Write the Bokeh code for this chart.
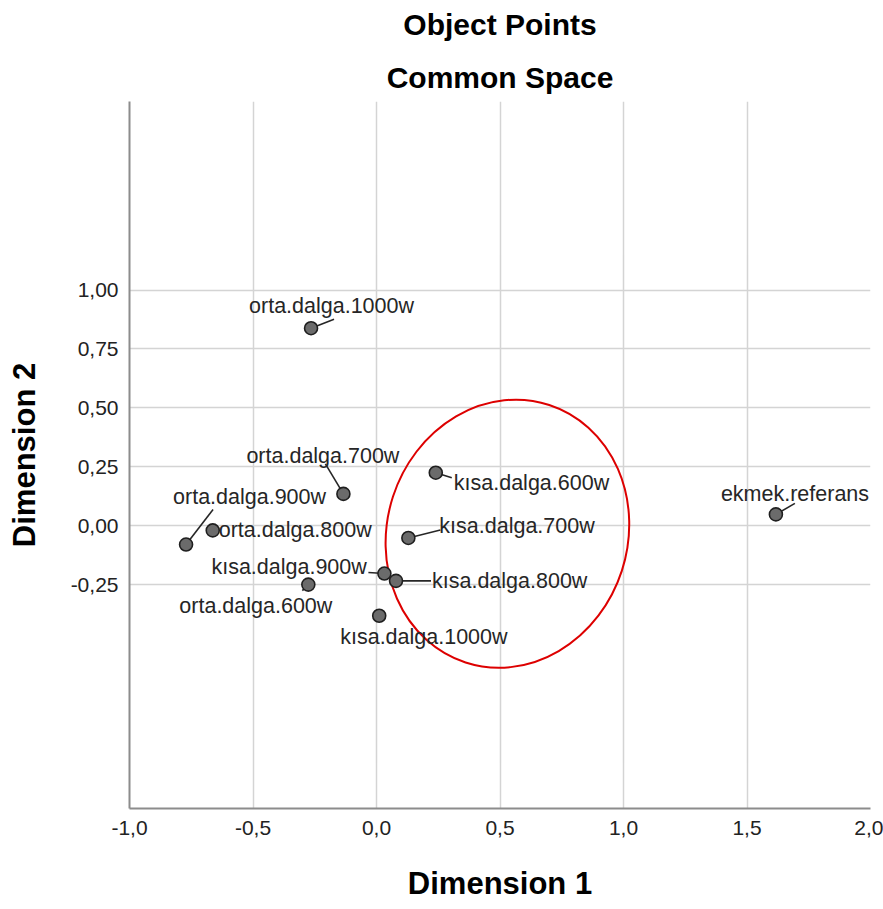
from bokeh.plotting import figure
from bokeh.models import FixedTicker, CustomJSTickFormatter, Title, ColumnDataSource
from bokeh.core.properties import value
from bokeh.embed import file_html
from bokeh.resources import INLINE
import math

# ---- data ----
names = ["orta.dalga.1000w", "orta.dalga.700w", "orta.dalga.900w", "orta.dalga.800w",
         "kısa.dalga.900w", "orta.dalga.600w", "kısa.dalga.800w", "kısa.dalga.1000w",
         "kısa.dalga.600w", "kısa.dalga.700w", "ekmek.referans"]
dim1 = [-0.265, -0.134, -0.771, -0.663, 0.032, -0.276, 0.079, 0.011, 0.240, 0.129, 1.617]
dim2 = [0.838, 0.135, -0.080, -0.020, -0.203, -0.250, -0.234, -0.382, 0.225, -0.052, 0.048]
x_ticks = [-1.0, -0.5, 0.0, 0.5, 1.0, 1.5, 2.0]
y_ticks = [-0.25, 0.0, 0.25, 0.5, 0.75, 1.0]

# ---- layout (screen px offsets of labels / leader ends relative to points) ----
label_dx = [-62, -97, -13, 6, -173, -129, 36, -39, 18, 31, -55]
label_dy = [-22, -38, -48, 0, -7, 21, 0, 21, 10, -12, -20]
leader_dx = [23, -18, 27, None, -16, -6, 35, None, 16, 32, 19]
leader_dy = [-9, -30, -35, None, -1, 6, 0, None, 5, -8, -11]

X_RANGE = (-1.0, 2.0)
Y_RANGE = (-1.2, 1.8)
FRAME_W, FRAME_H = 741, 708
FONT = "Liberation Sans"

p = figure(width=883, height=909, x_range=X_RANGE, y_range=Y_RANGE,
           output_backend="svg", toolbar_location=None, title_location=None,
           min_border_left=129, min_border_right=13, min_border_top=100, min_border_bottom=101)
p.outline_line_color = None
p.background_fill_color = "white"
p.border_fill_color = "white"

# titles
t1 = Title(text="Common Space", align="center", text_font=FONT, text_font_size="30px",
           text_font_style="bold", text_color="black", standoff=16)
t2 = Title(text="Object Points", align="center", text_font=FONT, text_font_size="30px",
           text_font_style="bold", text_color="black", standoff=15, vertical_align="top")
p.add_layout(t1, "above")
p.add_layout(t2, "above")

# axes
p.xaxis.ticker = FixedTicker(ticks=x_ticks)
p.yaxis.ticker = FixedTicker(ticks=y_ticks)
p.xaxis.formatter = CustomJSTickFormatter(code="return tick.toFixed(1).replace('.', ',');")
p.yaxis.formatter = CustomJSTickFormatter(code="return tick.toFixed(2).replace('.', ',');")
for ax in (p.xaxis[0], p.yaxis[0]):
    ax.major_tick_line_color = None
    ax.minor_tick_line_color = None
    ax.major_tick_out = 0
    ax.major_tick_in = 0
    ax.axis_line_color = "#8c8c8c"
    ax.axis_line_width = 2
    ax.major_label_text_font = FONT
    ax.major_label_text_font_size = "21px"
    ax.major_label_text_color = "#222222"
    ax.axis_label_text_font = FONT
    ax.axis_label_text_font_size = "31px"
    ax.axis_label_text_font_style = "bold"
    ax.axis_label_text_color = "black"
p.xaxis.axis_label = "Dimension 1"
p.yaxis.axis_label = "Dimension 2"
p.xaxis.major_label_standoff = 12
p.yaxis.major_label_standoff = 11
p.xaxis.axis_label_standoff = 28
p.yaxis.axis_label_standoff = 26
p.yaxis.major_label_orientation = "horizontal"

p.grid.grid_line_color = "#d4d4d4"
p.grid.grid_line_width = 1.5

# leader lines
ppx = FRAME_W / (X_RANGE[1] - X_RANGE[0])
ppy = FRAME_H / (Y_RANGE[1] - Y_RANGE[0])
x0s, y0s, x1s, y1s = [], [], [], []
for x, y, dx, dy in zip(dim1, dim2, leader_dx, leader_dy):
    if dx is None:
        continue
    x0s.append(x); y0s.append(y)
    x1s.append(x + dx / ppx); y1s.append(y - dy / ppy)
p.segment(x0=x0s, y0=y0s, x1=x1s, y1=y1s, line_color="#262626", line_width=1.6)

# ellipse highlight
p.ellipse(x=[0.530], y=[-0.034], width=[240.6], height=[270.8], angle=[-18 * math.pi / 180],
          width_units="screen", height_units="screen",
          fill_color=None, line_color="#dd0000", line_width=2)

# points
src = ColumnDataSource(dict(x=dim1, y=dim2, name=names, dx=label_dx, dy=label_dy))
p.scatter(x="x", y="y", source=src, size=13, fill_color="#6b6b6b", line_color="#1f1f1f", line_width=1.6)
p.text(x="x", y="y", text="name", source=src, x_offset="dx", y_offset="dy",
       text_font=value(FONT), text_font_size="21.5px", text_color="#262626",
       text_align="left", text_baseline="middle")

open("out.html", "w").write(file_html(p, INLINE))
